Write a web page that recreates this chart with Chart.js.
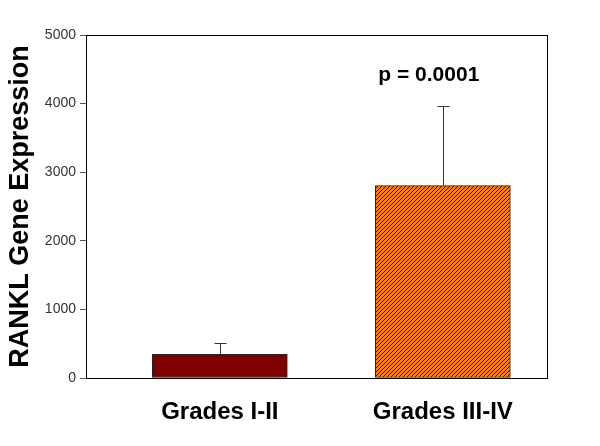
<!DOCTYPE html>
<html>
<head>
<meta charset="utf-8">
<script src="https://cdn.jsdelivr.net/npm/chart.js@4"></script>
<style>
  html, body { margin: 0; padding: 0; background: #fff; }
  #wrap { width: 600px; height: 446px; }
</style>
</head>
<body>
<div id="wrap"><canvas id="rankChart"></canvas></div>
<script>
// Data
const categories = ['Grades I-II', 'Grades III-IV'];
const categoryPos = [1, 2];
const means = [345, 2805];
const upperErrors = [160, 1160];
const yTicks = [0, 1000, 2000, 3000, 4000, 5000];
const pLabel = 'p = 0.0001';

const FONT = "'Liberation Sans', Arial, sans-serif";

// Hatched orange fill for the second bar
function makeHatch() {
    const c = document.createElement('canvas');
    c.width = 4; c.height = 4;
    const g = c.getContext('2d');
    g.fillStyle = '#ff8000';
    g.fillRect(0, 0, 4, 4);
    g.strokeStyle = '#1a1a1a';
    g.lineWidth = 1;
    g.beginPath();
    g.moveTo(-1, 5); g.lineTo(5, -1);
    g.moveTo(-1, 1); g.lineTo(1, -1);
    g.moveTo(3, 5); g.lineTo(5, 3);
    g.stroke();
    return g.createPattern(c, 'repeat');
}

// Error bars, frame and p-value text
const extras = {
    id: 'extras',
    afterDatasetsDraw(chart) {
        const ctx = chart.ctx;
        const xs = chart.scales.x, ys = chart.scales.y;
        const area = chart.chartArea;
        ctx.save();
        ctx.strokeStyle = '#333';
        ctx.lineWidth = 1;
        means.forEach((m, i) => {
            const x = Math.round(xs.getPixelForValue(categoryPos[i])) + 0.5;
            const y0 = ys.getPixelForValue(m);
            const y1 = Math.round(ys.getPixelForValue(m + upperErrors[i])) + 0.5;
            ctx.beginPath();
            ctx.moveTo(x, y0); ctx.lineTo(x, y1);
            ctx.moveTo(x - 6, y1); ctx.lineTo(x + 6, y1);
            ctx.stroke();
        });
        // frame
        ctx.strokeStyle = '#000';
        ctx.strokeRect(Math.round(area.left) + 0.5, Math.round(area.top) + 0.5,
            Math.round(area.right - area.left), Math.round(area.bottom - area.top));
        // p value
        ctx.fillStyle = '#000';
        ctx.font = 'bold 21px ' + FONT;
        ctx.textAlign = 'center';
        ctx.textBaseline = 'middle';
        ctx.fillText(pLabel, xs.getPixelForValue(categoryPos[1]) - 14, ys.getPixelForValue(4420));
        ctx.restore();
    }
};

new Chart(document.getElementById('rankChart'), {
    type: 'bar',
    data: {
        datasets: [{
            data: means.map((v, i) => ({ x: categoryPos[i], y: v })),
            backgroundColor: ['#7f0000', makeHatch()],
            borderColor: '#222',
            borderWidth: 1,
            barThickness: 135,
            borderSkipped: false
        }]
    },
    options: {
        responsive: true,
        maintainAspectRatio: false,
        animation: false,
        layout: { padding: { top: 35, right: 53, left: 0, bottom: 0 } },
        plugins: { legend: { display: false }, tooltip: { enabled: false } },
        scales: {
            x: {
                type: 'linear',
                offset: false,
                min: 0.4,
                max: 2.467,
                afterBuildTicks: (s) => { s.ticks = categoryPos.map(v => ({ value: v })); },
                afterFit: (s) => { s.height = 68; },
                ticks: {
                    callback: (v) => categories[categoryPos.indexOf(v)],
                    font: { family: FONT, size: 24, weight: 'bold' },
                    color: '#000',
                    padding: 20,
                    maxRotation: 0,
                    autoSkip: false
                },
                grid: { display: false, drawTicks: false },
                border: { display: false }
            },
            y: {
                min: 0,
                max: 5000,
                afterBuildTicks: (s) => { s.ticks = yTicks.map(v => ({ value: v })); },
                afterFit: (s) => { s.width = 86; },
                ticks: {
                    callback: (v) => String(v),
                    font: { family: FONT, size: 14 },
                    color: '#333',
                    padding: 4
                },
                grid: { drawOnChartArea: false, tickLength: 6, color: '#555' },
                border: { display: false },
                title: {
                    display: true,
                    text: 'RANKL Gene Expression',
                    font: { family: FONT, size: 27, weight: 'bold' },
                    color: '#000',
                    padding: { top: 4, bottom: 0 }
                }
            }
        }
    },
    plugins: [extras]
});
</script>
</body>
</html>
